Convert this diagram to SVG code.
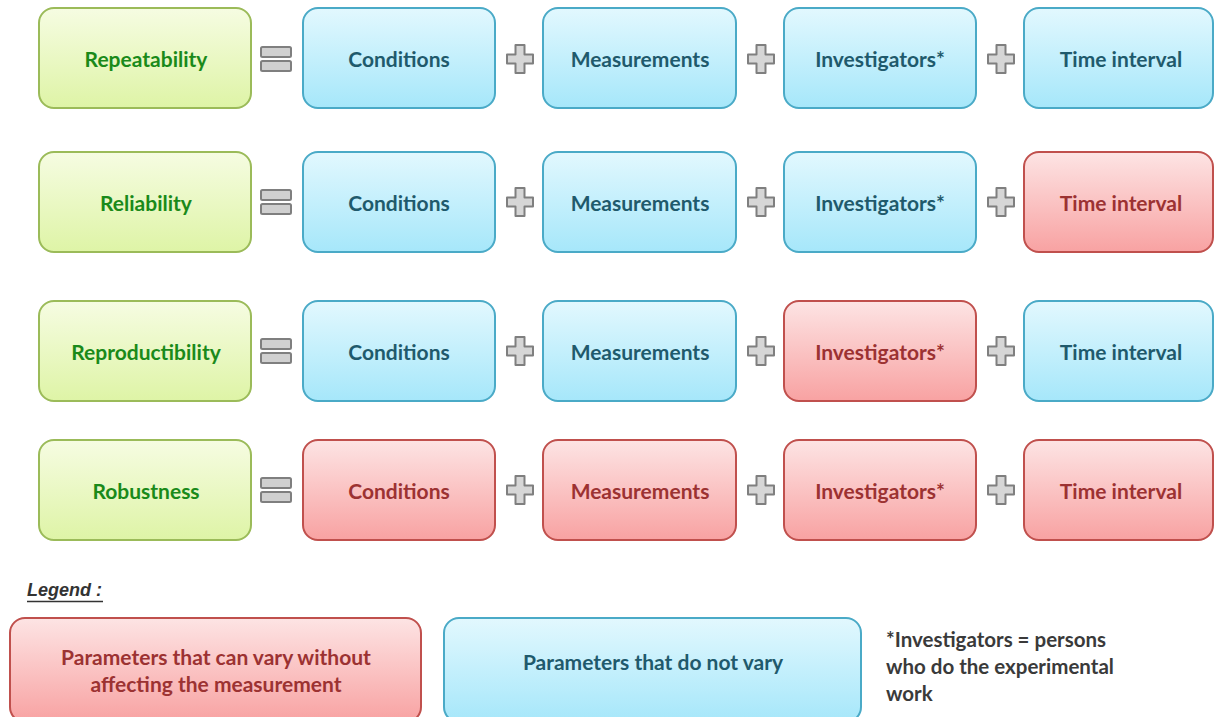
<svg xmlns="http://www.w3.org/2000/svg" width="1214" height="717" viewBox="0 0 1214 717">
<defs>
<linearGradient id="gB" x1="0" y1="0" x2="0" y2="1"><stop offset="0" stop-color="#e2f8fe"/><stop offset="1" stop-color="#a6e7fa"/></linearGradient>
<linearGradient id="gR" x1="0" y1="0" x2="0" y2="1"><stop offset="0" stop-color="#fde4e4"/><stop offset="1" stop-color="#f8a2a2"/></linearGradient>
<linearGradient id="gG" x1="0" y1="0" x2="0" y2="1"><stop offset="0" stop-color="#f6fce2"/><stop offset="1" stop-color="#def4a6"/></linearGradient>
<symbol id="plus" viewBox="0 0 28 30" overflow="visible"><path d="M9.5 1 H18.5 V10.5 H27 V19.5 H18.5 V29 H9.5 V19.5 H1 V10.5 H9.5 Z" fill="#d6d6d6" stroke="#7f7f7f" stroke-width="2" stroke-linejoin="round"/></symbol>
<symbol id="eq" viewBox="0 0 32 26" overflow="visible"><rect x="1" y="1" width="30" height="10" rx="1.5" fill="#d0d0d0" stroke="#7f7f7f" stroke-width="2"/><rect x="1" y="15" width="30" height="10" rx="1.5" fill="#d0d0d0" stroke="#7f7f7f" stroke-width="2"/></symbol>
</defs>
<style>
.b{fill:url(#gB);stroke:#4aaac7;stroke-width:2}
.r{fill:url(#gR);stroke:#c0504d;stroke-width:2}
.g{fill:url(#gG);stroke:#9bbb59;stroke-width:2}
text{font-family:Lato,"Liberation Sans",sans-serif;font-weight:bold;font-size:21px;text-anchor:middle}
.tb{fill:#1f5a6c}
.tr{fill:#9c3232}
.tg{fill:#1a8a1a}
.note{fill:#3a3a3a;text-anchor:start;font-size:20.5px}
.leg{font-family:"Liberation Sans",Arial,sans-serif;font-style:italic;font-size:18px;fill:#333;text-anchor:start}
</style>
<rect width="1214" height="717" fill="#ffffff"/>

<!-- Row 1 -->
<g id="row1-repeatability"><rect class="g" x="39" y="8" width="212" height="100" rx="15"/><text class="tg" x="146" y="67">Repeatability</text></g>
<g id="row1-conditions"><rect class="b" x="303" y="8" width="192" height="100" rx="15"/><text class="tb" x="399" y="67">Conditions</text></g>
<g id="row1-measurements"><rect class="b" x="543" y="8" width="193" height="100" rx="15"/><text class="tb" x="640" y="67">Measurements</text></g>
<g id="row1-investigators"><rect class="b" x="784" y="8" width="192" height="100" rx="15"/><text class="tb" x="880" y="67">Investigators*</text></g>
<g id="row1-time"><rect class="b" x="1024" y="8" width="189" height="100" rx="15"/><text class="tb" x="1121" y="67">Time interval</text></g>

<!-- Row 2 -->
<g id="row2-reliability"><rect class="g" x="39" y="152" width="212" height="100" rx="15"/><text class="tg" x="146" y="211">Reliability</text></g>
<g id="row2-conditions"><rect class="b" x="303" y="152" width="192" height="100" rx="15"/><text class="tb" x="399" y="211">Conditions</text></g>
<g id="row2-measurements"><rect class="b" x="543" y="152" width="193" height="100" rx="15"/><text class="tb" x="640" y="211">Measurements</text></g>
<g id="row2-investigators"><rect class="b" x="784" y="152" width="192" height="100" rx="15"/><text class="tb" x="880" y="211">Investigators*</text></g>
<g id="row2-time"><rect class="r" x="1024" y="152" width="189" height="100" rx="15"/><text class="tr" x="1121" y="211">Time interval</text></g>

<!-- Row 3 -->
<g id="row3-reproductibility"><rect class="g" x="39" y="301" width="212" height="100" rx="15"/><text class="tg" x="146" y="360">Reproductibility</text></g>
<g id="row3-conditions"><rect class="b" x="303" y="301" width="192" height="100" rx="15"/><text class="tb" x="399" y="360">Conditions</text></g>
<g id="row3-measurements"><rect class="b" x="543" y="301" width="193" height="100" rx="15"/><text class="tb" x="640" y="360">Measurements</text></g>
<g id="row3-investigators"><rect class="r" x="784" y="301" width="192" height="100" rx="15"/><text class="tr" x="880" y="360">Investigators*</text></g>
<g id="row3-time"><rect class="b" x="1024" y="301" width="189" height="100" rx="15"/><text class="tb" x="1121" y="360">Time interval</text></g>

<!-- Row 4 -->
<g id="row4-robustness"><rect class="g" x="39" y="440" width="212" height="100" rx="15"/><text class="tg" x="146" y="499">Robustness</text></g>
<g id="row4-conditions"><rect class="r" x="303" y="440" width="192" height="100" rx="15"/><text class="tr" x="399" y="499">Conditions</text></g>
<g id="row4-measurements"><rect class="r" x="543" y="440" width="193" height="100" rx="15"/><text class="tr" x="640" y="499">Measurements</text></g>
<g id="row4-investigators"><rect class="r" x="784" y="440" width="192" height="100" rx="15"/><text class="tr" x="880" y="499">Investigators*</text></g>
<g id="row4-time"><rect class="r" x="1024" y="440" width="189" height="100" rx="15"/><text class="tr" x="1121" y="499">Time interval</text></g>

<!-- Operators -->
<g id="operators">
<use href="#eq" x="260" y="46" width="32" height="26"/>
<use href="#plus" x="506" y="44" width="28" height="30"/>
<use href="#plus" x="747" y="44" width="28" height="30"/>
<use href="#plus" x="987" y="44" width="28" height="30"/>

<use href="#eq" x="260" y="189" width="32" height="26"/>
<use href="#plus" x="506" y="187" width="28" height="30"/>
<use href="#plus" x="747" y="187" width="28" height="30"/>
<use href="#plus" x="987" y="187" width="28" height="30"/>

<use href="#eq" x="260" y="338" width="32" height="26"/>
<use href="#plus" x="506" y="336" width="28" height="30"/>
<use href="#plus" x="747" y="336" width="28" height="30"/>
<use href="#plus" x="987" y="336" width="28" height="30"/>

<use href="#eq" x="260" y="477" width="32" height="26"/>
<use href="#plus" x="506" y="475" width="28" height="30"/>
<use href="#plus" x="747" y="475" width="28" height="30"/>
<use href="#plus" x="987" y="475" width="28" height="30"/>
</g>

<!-- Legend -->
<g id="legend-title"><text class="leg" x="27" y="596">Legend :</text><line x1="27" y1="601.5" x2="103" y2="601.5" stroke="#333" stroke-width="1.5"/></g>
<g id="legend-vary"><rect class="r" x="10" y="618" width="411" height="104" rx="15"/><text class="tr" x="216" y="665">Parameters that can vary without</text><text class="tr" x="216" y="692">affecting the measurement</text></g>
<g id="legend-novary"><rect class="b" x="444" y="618" width="417" height="104" rx="15"/><text class="tb" x="653" y="670">Parameters that do not vary</text></g>
<g id="footnote"><text class="note" x="886" y="647">*Investigators = persons</text><text class="note" x="886" y="674">who do the experimental</text><text class="note" x="886" y="701">work</text></g>
</svg>
